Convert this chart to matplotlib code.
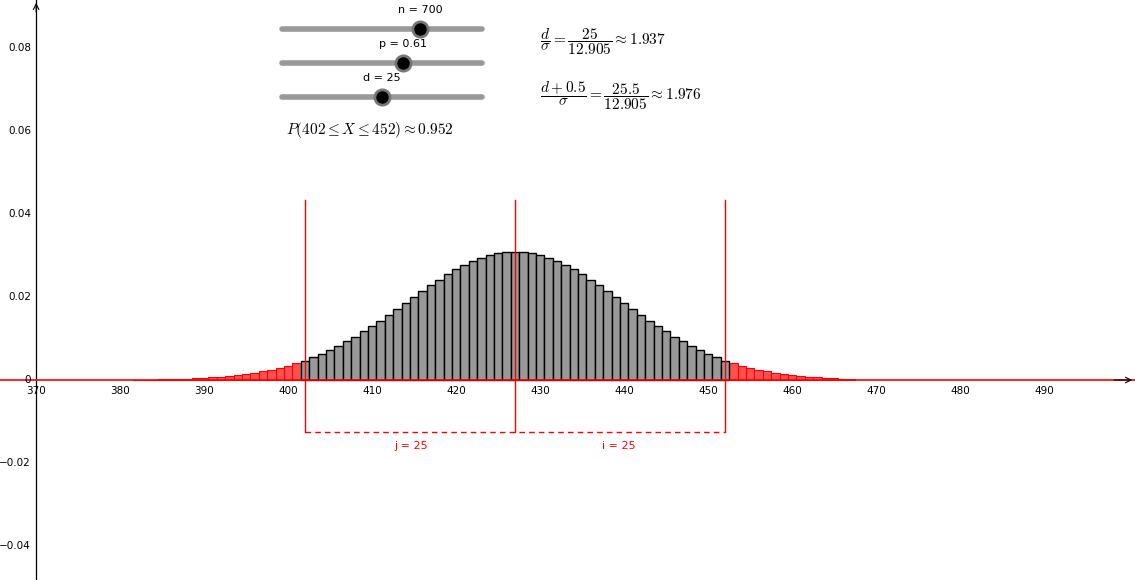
import numpy as np
import matplotlib.pyplot as plt
from matplotlib.lines import Line2D

# Binomialverteilung n=700, p=0.61
k_values = list(range(382, 468))
probs = [0.00005, 0.00007, 0.0001, 0.00015, 0.0002, 0.00024, 0.0003, 0.0004, 0.0005,
         0.00063, 0.00078, 0.00096, 0.0012, 0.0014, 0.0017, 0.0021, 0.0025, 0.0029,
         0.0035, 0.0041, 0.0047, 0.0055, 0.0063, 0.0072, 0.0082, 0.0093, 0.0104,
         0.0117, 0.0130, 0.0143, 0.0157, 0.0171, 0.0186, 0.0200, 0.0215, 0.0229,
         0.0242, 0.0255, 0.0267, 0.0277, 0.0287, 0.0295, 0.0301, 0.0305, 0.0308,
         0.0309, 0.0308, 0.0305, 0.0301, 0.0295, 0.0287, 0.0277, 0.0267, 0.0255,
         0.0242, 0.0229, 0.0215, 0.0200, 0.0186, 0.0171, 0.0157, 0.0143, 0.0130,
         0.0117, 0.0104, 0.0093, 0.0082, 0.0072, 0.0063, 0.0055, 0.0047, 0.0041,
         0.0035, 0.0029, 0.0025, 0.0021, 0.0017, 0.0014, 0.0012, 0.00096, 0.00078,
         0.00063, 0.0005, 0.0004, 0.0003, 0.00024]
lo, hi, mean = 402, 452, 427
x_ticks = list(range(370, 500, 10))
y_ticks = [-0.04, -0.02, 0, 0.02, 0.04, 0.06, 0.08]
y_labels = ["\u22120.04", "\u22120.02", "0", "0.02", "0.04", "0.06", "0.08"]

fig = plt.figure(figsize=(11.35, 5.8), dpi=100)
ax = fig.add_axes([0, 0, 1, 1])
ax.set_xlim(365.7, 500.8)
ax.set_ylim(-0.0482, 0.0916)

k = np.array(k_values)
pr = np.array(probs)
inside = (k >= lo) & (k <= hi)
ax.bar(k[~inside], pr[~inside], width=1, color="#ff5050", edgecolor="#ff0000", lw=0.8, zorder=2)
ax.bar(k[inside], pr[inside], width=1, color="#999999", edgecolor="black", lw=1, zorder=2)

# Achsen
ax.axhline(0, color="red", lw=1.2, zorder=3)
ax.annotate("", xy=(500.8, 0), xytext=(498, 0),
            arrowprops=dict(arrowstyle="->", color="black", lw=0.8))
ax.axvline(370, color="black", lw=0.9, zorder=1)
ax.annotate("", xy=(370, 0.0916), xytext=(370, 0.088),
            arrowprops=dict(arrowstyle="->", color="black", lw=0.8))
for x in x_ticks:
    ax.text(x, -0.0015, str(x), ha="center", va="top", fontsize=7.5)
for y, lab in zip(y_ticks, y_labels):
    ax.text(369.4, y, lab, ha="right", va="center", fontsize=7.5)
for s in ax.spines.values():
    s.set_visible(False)
ax.set_xticks([])
ax.set_yticks([])

# rote Linien und Klammer
ybr = -0.0125
for x in (lo, mean, hi):
    ax.plot([x, x], [ybr, 0.0434], color="red", lw=1, zorder=4)
ax.plot([lo, hi], [ybr, ybr], color="red", lw=1, ls=(0, (4, 3)), zorder=4)
ax.text(414.6, -0.016, "j = 25", color="red", ha="center", va="center", fontsize=8)
ax.text(439.3, -0.016, "i = 25", color="red", ha="center", va="center", fontsize=8)

# Schieberegler
W, H = 1135, 580
def slider(y, xdot, label):
    fig.add_artist(Line2D([282 / W, 482 / W], [1 - y / H] * 2, color="#999999", lw=4,
                          solid_capstyle="round"))
    fig.add_artist(Line2D([xdot / W], [1 - y / H], marker="o", ms=11, color="black",
                          mec="#777777", mew=2))
    fig.text(xdot / W, 1 - (y - 19) / H, label, ha="center", va="center", fontsize=8)

slider(29, 420, "n = 700")
slider(63, 403, "p = 0.61")
slider(97, 382, "d = 25")

fig.text(286 / W, 1 - 130 / H, r"$P(402 \leq X \leq 452) \approx 0.952$", fontsize=11,
         va="center", math_fontfamily="cm")
fig.text(540 / W, 1 - 42 / H, r"$\dfrac{d}{\sigma} = \dfrac{25}{12.905} \approx 1.937$",
         fontsize=11, va="center", math_fontfamily="cm")
fig.text(540 / W, 1 - 96 / H, r"$\dfrac{d+0.5}{\sigma} = \dfrac{25.5}{12.905} \approx 1.976$",
         fontsize=11, va="center", math_fontfamily="cm")

fig.savefig("out.png", dpi=100)
